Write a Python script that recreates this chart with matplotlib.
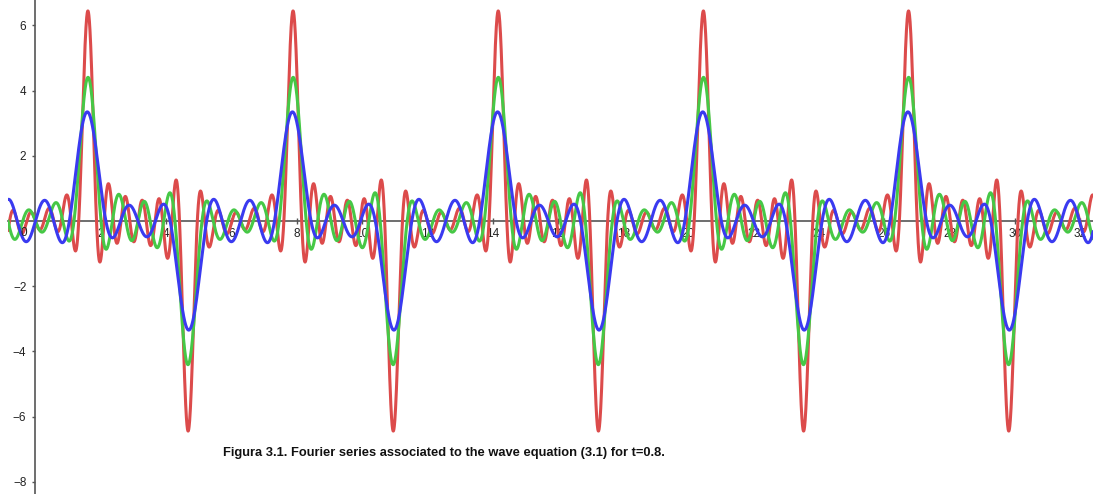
import numpy as np
import matplotlib
matplotlib.use('Agg')
import matplotlib.pyplot as plt
from matplotlib import font_manager

# partial sums of the sine series  sum_n b_n sin(n x),  b_n = sin(n*x0) * (a + c/n)
pulse_pos = 1.6          # position of the positive pulse
coef_const = 0.972       # constant part of the amplitude
coef_inv = 0.288         # 1/n part of the amplitude
n_terms = [12, 8, 5]     # red, green, blue
colors = ['#dc4b4b', '#46c846', '#3a3af0']

x_range = [-0.84, 32.4]
xticks = list(range(2, 33, 2))
yticks = [-8, -6, -4, -2, 2, 4, 6]
caption = 'Figura 3.1. Fourier series associated to the wave equation (3.1) for t=0.8.'

fig = plt.figure(figsize=(10.93, 4.94), dpi=100)
ax = fig.add_axes([8 / 1093, 0, 1 - 8 / 1093, 1])

x = np.linspace(x_range[0], x_range[1], 6000)
for N, col in zip(n_terms, colors):
    n = np.arange(1, N + 1)
    b = np.sin(n * pulse_pos) * (coef_const + coef_inv / n)
    y = (b[:, None] * np.sin(np.outer(n, x))).sum(axis=0)
    ax.plot(x, y, color=col, lw=2.2, zorder=3, solid_capstyle='round')

ax.set_xlim(-0.84, (1093 - 35.5) / 32.65)
ax.set_ylim(-(494 - 221) / 32.6, 221 / 32.6)

for s in ['top', 'right']:
    ax.spines[s].set_visible(False)
ax.spines['left'].set_position(('data', 0))
ax.spines['bottom'].set_position(('data', 0))
for s in ['left', 'bottom']:
    ax.spines[s].set_color('#555555')
    ax.spines[s].set_linewidth(1.2)
    ax.spines[s].set_zorder(2)

tick_font = 'Liberation Sans'
ax.set_xticks(xticks)
ax.set_xticklabels([str(v) for v in xticks], fontsize=8.5, family=tick_font, color='#222222')
ax.set_yticks(yticks)
ax.set_yticklabels(['\u2212' + str(-v) if v < 0 else str(v) for v in yticks],
                   fontsize=8.5, family=tick_font, color='#222222')
ax.tick_params(axis='x', direction='inout', length=4, width=1, color='#555555', pad=3)
ax.tick_params(axis='y', direction='out', length=2.5, width=1, color='#555555', pad=4)
ax.annotate('0', xy=(0, 0), xytext=(-8.3, -8.6), textcoords='offset points',
            ha='center', va='center', fontsize=8.5, family=tick_font, color='#222222')

names = {f.name for f in font_manager.fontManager.ttflist}
if 'Liberation Sans Narrow' in names:
    cap_family, cap_size = 'Liberation Sans Narrow', 11.3
else:
    cap_family, cap_size = 'Liberation Sans', 9.3
fig.text(223 / 1093, 38 / 494, caption, family=cap_family, fontsize=cap_size,
         fontweight='bold', color='#111111', ha='left', va='baseline')

fig.savefig('out.png', dpi=100)
